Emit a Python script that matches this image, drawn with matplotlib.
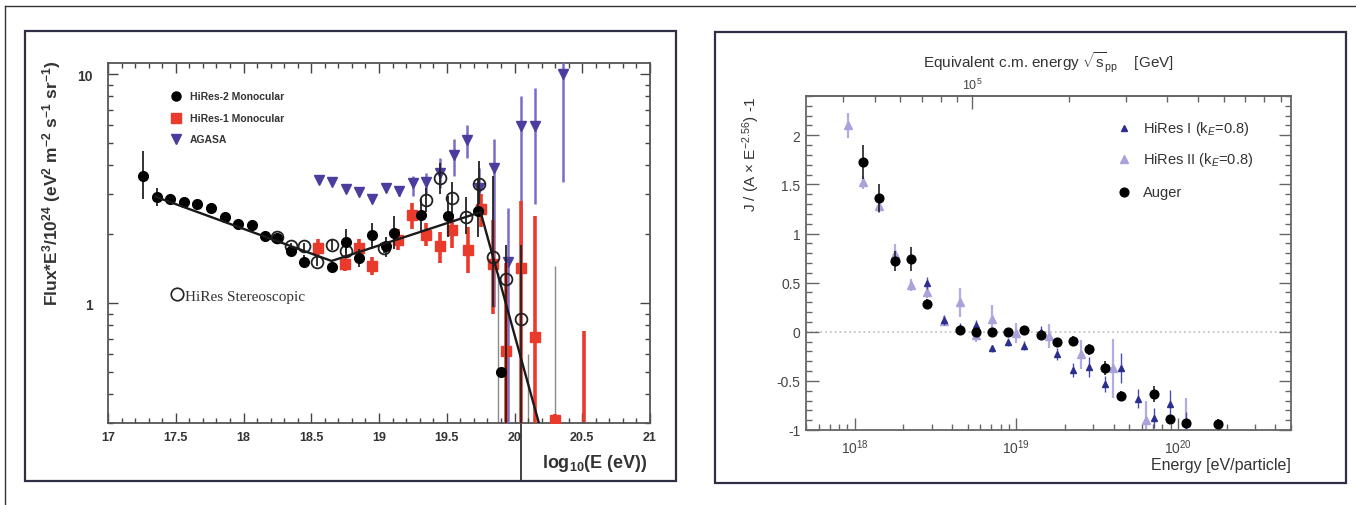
import numpy as np
import matplotlib
matplotlib.use('Agg')
import matplotlib.pyplot as plt
from matplotlib.patches import Rectangle
from matplotlib.lines import Line2D
from matplotlib.ticker import FixedLocator, FixedFormatter, NullFormatter, LogLocator

plt.rcParams['font.family'] = ['Liberation Sans', 'DejaVu Sans']
plt.rcParams['mathtext.fontset'] = 'custom'
plt.rcParams['mathtext.rm'] = 'Liberation Sans'
plt.rcParams['mathtext.it'] = 'Liberation Sans:italic'
plt.rcParams['mathtext.bf'] = 'Liberation Sans:bold'
plt.rcParams['axes.unicode_minus'] = False

# ---------------- left panel data: log10(E/eV) vs Flux*E^3/1e24 ----------------
hires2_x = [17.26, 17.36, 17.46, 17.56, 17.66, 17.76, 17.86, 17.96, 18.06, 18.16, 18.25,
            18.35, 18.45, 18.65, 18.76, 18.85, 18.95, 19.05, 19.11, 19.31, 19.51, 19.73, 19.90]
hires2_y = [3.6, 2.92, 2.86, 2.78, 2.72, 2.6, 2.37, 2.21, 2.19, 1.96, 1.92,
            1.69, 1.52, 1.44, 1.86, 1.57, 1.99, 1.77, 2.03, 2.43, 2.4, 2.52, 0.50]
hires2_lo = [2.85, 2.65, 2.72, 2.68, 2.63, 2.52, 2.3, 2.14, 2.12, 1.89, 1.85,
             1.62, 1.44, 1.36, 1.66, 1.44, 1.72, 1.6, 1.72, 2.05, 1.95, 1.95, 0.50]
hires2_hi = [4.6, 3.2, 3.0, 2.9, 2.82, 2.7, 2.45, 2.3, 2.27, 2.04, 2.0,
             1.78, 1.62, 1.54, 2.1, 1.72, 2.25, 1.95, 2.4, 2.85, 2.95, 3.5, 0.50]

hires1_x = [18.55, 18.75, 18.85, 18.95, 19.14, 19.24, 19.35, 19.45, 19.54, 19.66, 19.75,
            19.84, 19.94, 20.05, 20.15, 20.30]
hires1_y = [1.75, 1.49, 1.75, 1.46, 1.88, 2.43, 1.99, 1.77, 2.09, 1.71, 2.58,
            1.49, 0.62, 1.42, 0.71, 0.31]
hires1_lo = [1.62, 1.38, 1.6, 1.33, 1.7, 2.1, 1.78, 1.5, 1.75, 1.35, 2.15,
             0.9, 0.3, 0.3, 0.3, 0.3]
hires1_hi = [1.9, 1.62, 1.9, 1.6, 2.1, 2.75, 2.25, 2.05, 2.45, 2.15, 3.0,
             2.3, 1.5, 2.8, 2.4, 0.33]
hires1_lim_x = [20.51]
hires1_lim_top = [0.76]

agasa_x = [18.56, 18.65, 18.76, 18.85, 18.95, 19.05, 19.15, 19.25, 19.35, 19.45, 19.55,
           19.65, 19.74, 19.85, 19.95, 20.05, 20.15, 20.36]
agasa_y = [3.46, 3.37, 3.15, 3.05, 2.85, 3.18, 3.08, 3.35, 3.37, 3.70, 4.46,
           5.18, 3.2, 3.9, 1.52, 5.94, 5.94, 10.0]
agasa_lo = [3.36, 3.27, 3.05, 2.95, 2.75, 3.05, 2.95, 2.95, 3.0, 3.2, 3.6,
            4.3, 2.8, 0.96, 0.3, 1.4, 2.7, 3.4]
agasa_hi = [3.56, 3.47, 3.25, 3.15, 2.95, 3.3, 3.2, 3.6, 3.7, 4.3, 5.2,
            6.0, 3.9, 5.2, 2.6, 8.0, 8.7, 11.3]

stereo_x = [18.25, 18.35, 18.45, 18.54, 18.65, 18.76, 19.04, 19.35, 19.45, 19.54, 19.64,
            19.74, 19.84, 19.94, 20.05]
stereo_y = [1.94, 1.77, 1.77, 1.52, 1.80, 1.69, 1.74, 2.83, 3.52, 2.88, 2.38,
            3.33, 1.60, 1.28, 0.85]
stereo_lo = [1.88, 1.70, 1.70, 1.45, 1.70, 1.60, 1.65, 2.5, 3.0, 2.4, 2.0,
             2.7, 0.96, 0.3, 0.3]
stereo_hi = [2.0, 1.84, 1.84, 1.60, 1.90, 1.78, 1.84, 3.2, 4.1, 3.4, 2.9,
             4.2, 3.6, 1.8, 1.8]

gray_x = [19.88, 20.10, 20.30]
gray_top = [1.35, 0.6, 1.45]

fit_x = [17.35, 18.65, 19.75, 20.18]
fit_y = [2.92, 1.53, 2.5, 0.3]

left_xticks = [17, 17.5, 18, 18.5, 19, 19.5, 20, 20.5, 21]
left_xticklabels = ['17', '17.5', '18', '18.5', '19', '19.5', '20', '20.5', '21']
left_yticks = [1, 10]
left_yticklabels = ['1', '10']

# ---------------- right panel data: energy [eV] vs J/(A E^-2.56) - 1 ----------------
auger_E = [1.122e18, 1.413e18, 1.778e18, 2.239e18, 2.818e18, 4.467e18, 5.623e18, 7.079e18,
           8.913e18, 1.122e19, 1.413e19, 1.778e19, 2.239e19, 2.818e19, 3.548e19, 4.467e19,
           7.079e19, 8.913e19, 1.122e20, 1.778e20]
auger_y = [1.73, 1.36, 0.72, 0.74, 0.28, 0.02, 0.0, 0.0, 0.0, 0.02, -0.03, -0.10,
           -0.09, -0.18, -0.37, -0.65, -0.63, -0.89, -0.93, -0.94]
auger_err = [0.17, 0.14, 0.1, 0.12, 0.05, 0.03, 0.03, 0.03, 0.03, 0.04, 0.04, 0.04,
             0.05, 0.06, 0.07, 0.05, 0.08, 0.04, 0.04, 0.05]

hires1r_E = [2.818e18, 3.548e18, 4.467e18, 5.623e18, 7.079e18, 8.913e18, 1.122e19, 1.413e19,
             1.778e19, 2.239e19, 2.818e19, 3.548e19, 4.467e19, 5.623e19, 7.079e19, 8.913e19,
             1.122e20]
hires1r_y = [0.50, 0.12, 0.04, 0.07, -0.17, -0.10, -0.14, 0.0, -0.23, -0.39, -0.36,
             -0.53, -0.37, -0.68, -0.88, -0.74, -0.92]
hires1r_err = [0.06, 0.05, 0.05, 0.05, 0.04, 0.04, 0.05, 0.06, 0.06, 0.07, 0.1,
               0.08, 0.15, 0.1, 0.1, 0.15, 0.1]

hires2r_E = [9.12e17, 1.122e18, 1.413e18, 1.778e18, 2.239e18, 2.818e18, 3.548e18, 4.467e18,
             5.623e18, 7.079e18, 1.0e19, 1.585e19, 2.512e19, 3.981e19, 6.310e19, 1.122e20]
hires2r_y = [2.10, 1.52, 1.28, 0.79, 0.48, 0.40, 0.11, 0.30, -0.03, 0.13, -0.01,
             -0.045, -0.23, -0.37, -0.90, -0.92]
hires2r_err = [0.13, 0.07, 0.07, 0.1, 0.06, 0.06, 0.05, 0.15, 0.07, 0.14, 0.1,
               0.12, 0.15, 0.3, 0.2, 0.25]

right_yticks = [-1, -0.5, 0, 0.5, 1, 1.5, 2]
right_yticklabels = ['-1', '-0.5', '0', '0.5', '1', '1.5', '2']
top_ticks_gev = [1e5]

M_PROTON_GEV = 0.938

# ---------------- figure ----------------
W, H = 1356, 506
fig = plt.figure(figsize=(W / 100, H / 100), dpi=100)
fig.patch.set_facecolor('white')

def fx(px):
    return px / W

def fy(py):
    return 1 - py / H

# outer frame lines
fig.add_artist(Line2D([fx(5), fx(5)], [0, fy(7)], transform=fig.transFigure, color='#333333', lw=1.0))
fig.add_artist(Line2D([fx(5), 1], [fy(7), fy(7)], transform=fig.transFigure, color='#333333', lw=1.0))
# panel frames
fig.add_artist(Rectangle((fx(25), fy(482)), fx(676) - fx(25), fy(32) - fy(482),
                         transform=fig.transFigure, fill=False, ec='#2e2e44', lw=1.6))
fig.add_artist(Rectangle((fx(715), fy(484)), fx(1346) - fx(715), fy(33) - fy(484),
                         transform=fig.transFigure, fill=False, ec='#2e2e44', lw=1.6))

# ================= left panel =================
ax1 = fig.add_axes([fx(108), fy(424), fx(650) - fx(108), fy(64) - fy(424)])
ax1.set_yscale('log')
ax1.set_xlim(17, 21)
ax1.set_ylim(0.3, 11.2)

red = '#ea3a2c'
agasa_c = '#4b3d9e'
agasa_e = '#7a6cc8'

def asym(y, lo, hi):
    y = np.asarray(y); return [y - np.asarray(lo), np.asarray(hi) - y]

ax1.vlines(gray_x, 0.3, gray_top, color='#8a8a8a', lw=1.0, zorder=1)
ax1.vlines(hires1_lim_x, 0.3, hires1_lim_top, color=red, lw=2.6, zorder=2)
ax1.errorbar(agasa_x, agasa_y, yerr=asym(agasa_y, agasa_lo, agasa_hi), fmt='v', color=agasa_c,
             ecolor=agasa_e, elinewidth=1.8, ms=6.5, capsize=0, zorder=3)
ax1.errorbar(hires1_x, hires1_y, yerr=asym(hires1_y, hires1_lo, hires1_hi), fmt='s', color=red,
             ecolor=red, elinewidth=2.6, ms=6.5, capsize=0, zorder=4)
ax1.errorbar(stereo_x, stereo_y, yerr=asym(stereo_y, stereo_lo, stereo_hi), fmt='o', mfc='none',
             mec='#222222', mew=1.3, ecolor='#222222', elinewidth=1.3, ms=8.5, capsize=0, zorder=5)
ax1.errorbar(hires2_x, hires2_y, yerr=asym(hires2_y, hires2_lo, hires2_hi), fmt='o', color='black',
             ecolor='#222222', elinewidth=1.3, ms=7, capsize=0, zorder=6)
ax1.plot(fit_x, fit_y, color='#1a1a1a', lw=1.7, zorder=7)
# stereo error bar of the last point running down past the axis
ax1.plot([stereo_x[-1], stereo_x[-1]], [0, -0.158], transform=ax1.get_xaxis_transform(),
         color='#222222', lw=1.2, clip_on=False)

ax1.xaxis.set_major_locator(FixedLocator(left_xticks))
ax1.xaxis.set_major_formatter(FixedFormatter(left_xticklabels))
ax1.xaxis.set_minor_locator(FixedLocator(np.arange(17, 21.001, 0.1)))
ax1.yaxis.set_major_locator(FixedLocator(left_yticks))
ax1.yaxis.set_major_formatter(FixedFormatter(left_yticklabels))
ax1.yaxis.set_minor_locator(LogLocator(base=10, subs=np.arange(2, 10)))
ax1.yaxis.set_minor_formatter(NullFormatter())
ax1.tick_params(which='both', direction='in', top=True, right=True, colors='#444444',
                labelcolor='#333333', width=1.0)
ax1.tick_params(axis='x', labelsize=9, pad=6)
ax1.tick_params(axis='y', labelsize=10, pad=11)
ax1.tick_params(which='major', length=7)
ax1.tick_params(which='minor', length=3.5)
for t in ax1.get_xticklabels() + ax1.get_yticklabels():
    t.set_fontweight('bold')
for s in ax1.spines.values():
    s.set_color('#555555'); s.set_linewidth(1.3)

ax1.set_ylabel(r'Flux*E$^{\mathbf{3}}$/10$^{\mathbf{24}}$ (eV$^{\mathbf{2}}$ m$^{\mathbf{-2}}$ s$^{\mathbf{-1}}$ sr$^{\mathbf{-1}}$)',
               fontsize=12.5, fontweight='bold', color='#333333', loc='top')
ax1.yaxis.set_label_coords(-0.083, 1.01)
ax1.set_xlabel(r'log$_{\mathbf{10}}$(E (eV))', fontsize=13, fontweight='bold', color='#333333', loc='right')
ax1.xaxis.set_label_coords(0.995, -0.08)

# legend (left)
leg_rows = [(0.908, 'o', 'black', 'HiRes-2 Monocular'),
            (0.848, 's', red, 'HiRes-1 Monocular'),
            (0.790, 'v', agasa_c, 'AGASA')]
for yy, mk, c, lab in leg_rows:
    ax1.plot([0.125], [yy], marker=mk, color=c, ms=6.5, transform=ax1.transAxes, clip_on=False)
    ax1.text(0.151, yy, lab, transform=ax1.transAxes, fontsize=7.5, fontweight='bold',
             color='#333333', va='center', ha='left')
ax1.plot([0.128], [0.358], marker='o', mfc='none', mec='#222222', mew=1.2, ms=9,
         transform=ax1.transAxes)
ax1.text(0.142, 0.352, 'HiRes Stereoscopic', transform=ax1.transAxes, fontsize=11,
         family=['Liberation Serif', 'DejaVu Serif'], color='#333333', va='center', ha='left')

# ================= right panel =================
ax2 = fig.add_axes([fx(806), fy(431), fx(1291) - fx(806), fy(97) - fy(431)])
ax2.set_xscale('log')
ax2.set_xlim(5e17, 5e20)
ax2.set_ylim(-1, 2.4)
ax2.axhline(0, color='#c4c4c4', ls=':', lw=1.3, zorder=0)

hi1_c = '#2c2f8e'
hi2_c = '#aaa3da'
ax2.errorbar(hires2r_E, hires2r_y, yerr=hires2r_err, fmt='^', color=hi2_c, ecolor='#b4ade2',
             elinewidth=1.6, ms=6, capsize=0, zorder=2)
ax2.errorbar(hires1r_E, hires1r_y, yerr=hires1r_err, fmt='^', color=hi1_c, ecolor='#4b4fa8',
             elinewidth=1.0, ms=4.5, capsize=0, zorder=3)
ax2.errorbar(auger_E, auger_y, yerr=auger_err, fmt='o', color='black', ecolor='#222222',
             elinewidth=1.2, ms=6.3, capsize=0, zorder=4)

ax2.yaxis.set_major_locator(FixedLocator(right_yticks))
ax2.yaxis.set_major_formatter(FixedFormatter(right_yticklabels))
ax2.yaxis.set_minor_locator(FixedLocator(np.arange(-1, 2.401, 0.1)))
ax2.xaxis.set_minor_formatter(NullFormatter())
ax2.tick_params(which='both', direction='in', right=True, top=False, colors='#666666',
                labelcolor='#444444', labelsize=10, width=1.0)
ax2.tick_params(which='major', length=9)
ax2.tick_params(which='minor', length=4.5)
ax2.tick_params(axis='x', pad=5)
ax2.tick_params(axis='y', pad=4)
for s in ax2.spines.values():
    s.set_color('#666666'); s.set_linewidth(1.3)

sec = ax2.secondary_xaxis('top', functions=(lambda E: np.sqrt(2 * M_PROTON_GEV * np.maximum(E, 1e-30) * 1e-9),
                                             lambda s: s ** 2 / (2 * M_PROTON_GEV) * 1e9))
sec.xaxis.set_major_locator(FixedLocator(top_ticks_gev))
sec.xaxis.set_minor_locator(LogLocator(base=10, subs=np.arange(2, 10)))
sec.xaxis.set_minor_formatter(NullFormatter())
sec.tick_params(which='both', direction='in', colors='#666666', labelcolor='#444444', labelsize=9, width=1.0)
sec.tick_params(which='major', length=9, pad=3)
sec.tick_params(which='minor', length=4.5)
sec.spines['top'].set_color('#666666'); sec.spines['top'].set_linewidth(1.3)

ax2.text(0.5, (431 - 63) / 334, r'Equivalent c.m. energy $\sqrt{\mathrm{s}}_{\mathrm{pp}}$    [GeV]',
         transform=ax2.transAxes, ha='center', va='center', fontsize=11, color='#333333')
ax2.set_ylabel(r'J / (A $\times$ E$^{-2.56}$) -1', fontsize=11, color='#333333', loc='top')
ax2.yaxis.set_label_coords(-0.09, 1.0)
ax2.set_xlabel('Energy [eV/particle]', fontsize=11.5, color='#333333', loc='right')
ax2.xaxis.set_label_coords(1.0, -0.08)

leg2 = [(0.904, '^', hi1_c, 4.5, r'HiRes I (k$_{E}$=0.8)'),
        (0.811, '^', hi2_c, 6, r'HiRes II (k$_{E}$=0.8)'),
        (0.713, 'o', 'black', 6.3, 'Auger')]
for yy, mk, c, ms, lab in leg2:
    ax2.plot([0.656], [yy], marker=mk, color=c, ms=ms, transform=ax2.transAxes)
    ax2.text(0.695, yy, lab, transform=ax2.transAxes, fontsize=10.5, color='#333333',
             va='center', ha='left')

fig.savefig('out.png', dpi=100)
